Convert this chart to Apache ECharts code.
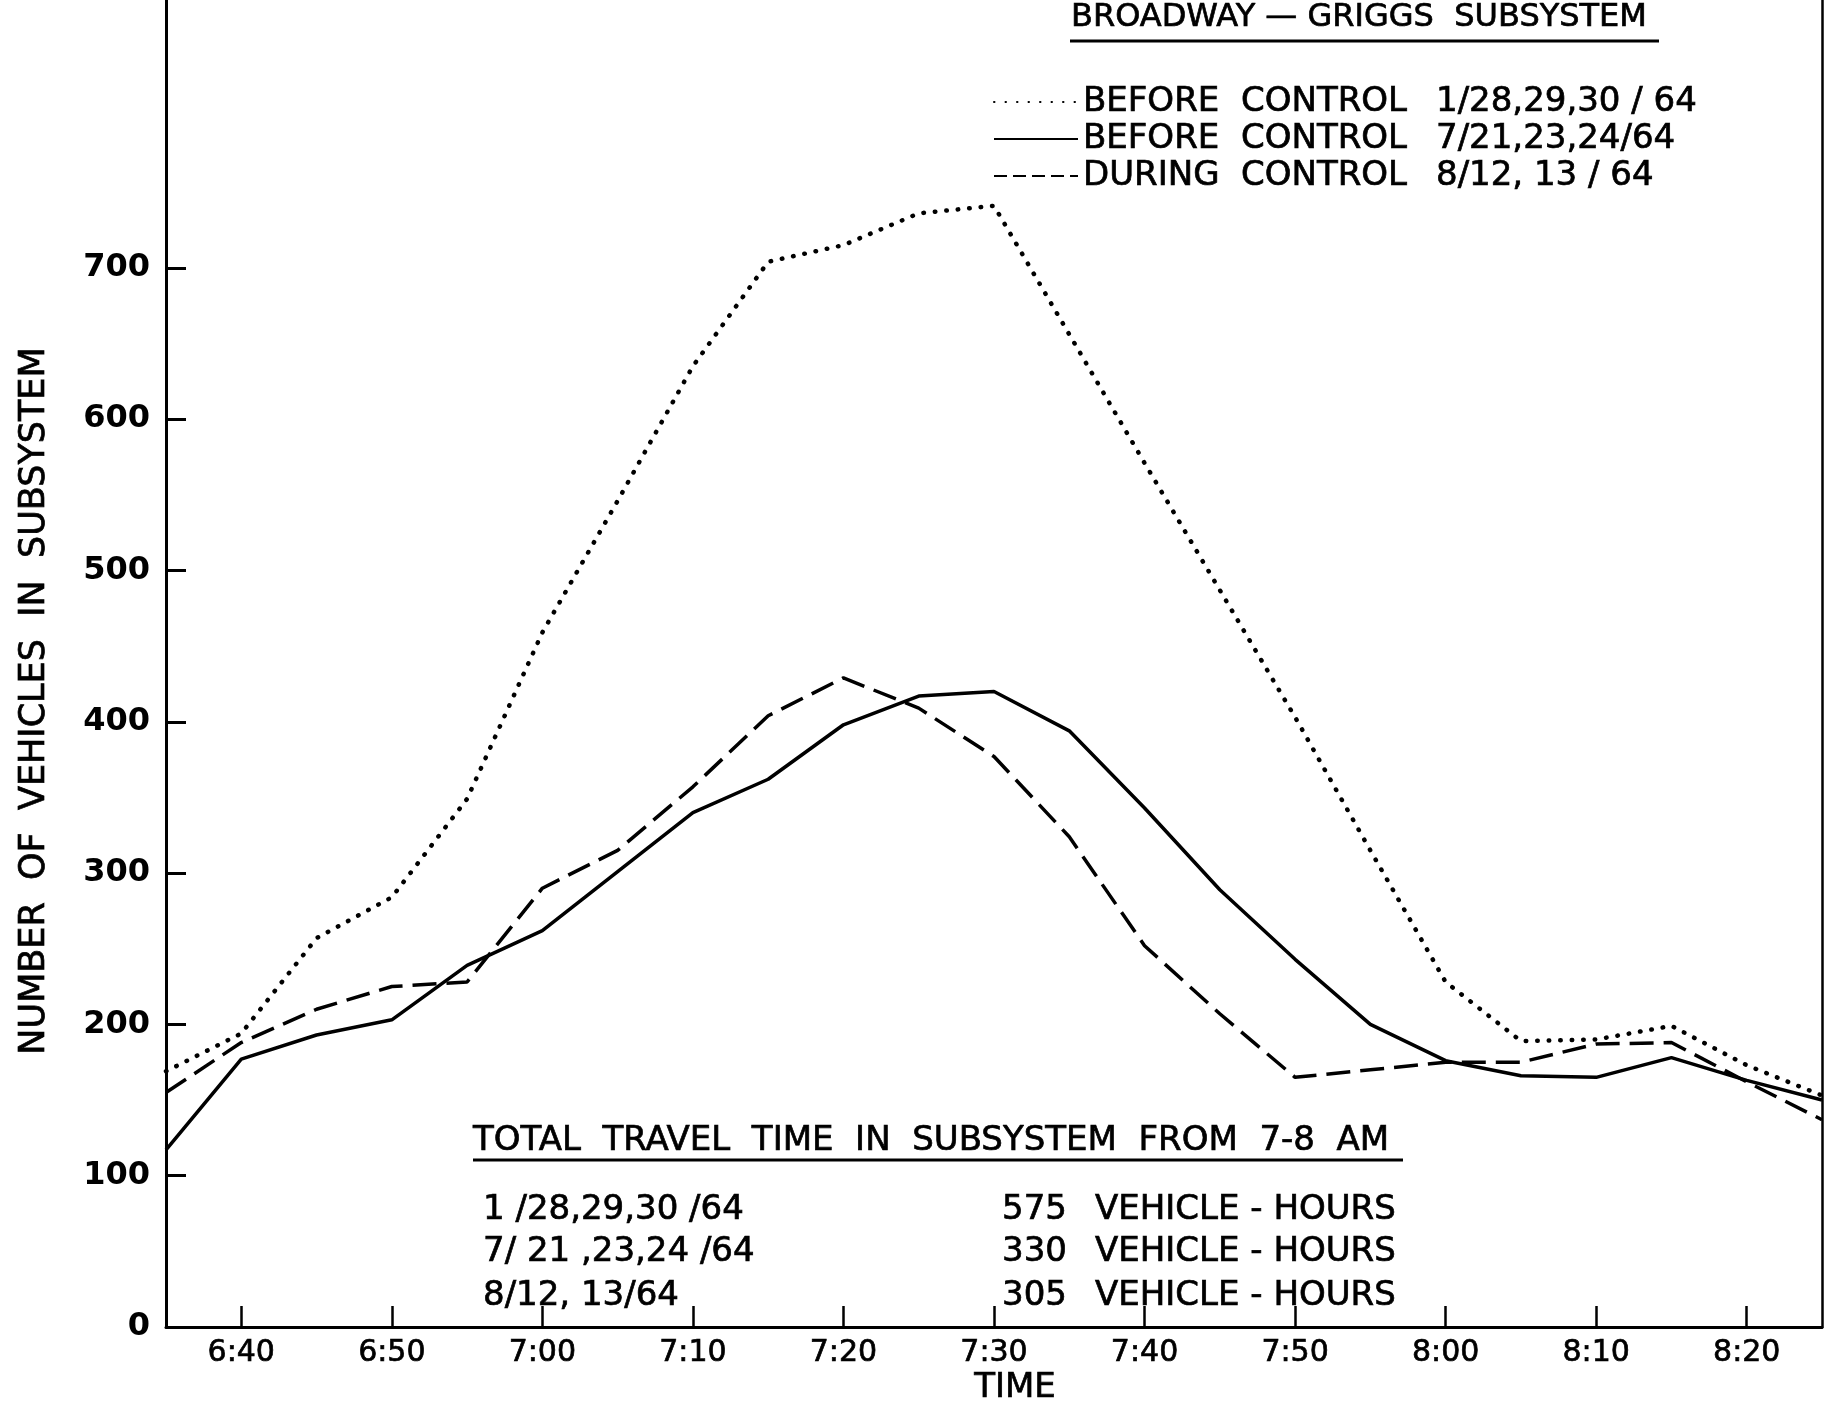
<!DOCTYPE html>
<html>
<head>
<meta charset="utf-8">
<script src="https://cdn.jsdelivr.net/npm/echarts@6/dist/echarts.min.js"></script>
<style>
  html, body { margin: 0; padding: 0; background: #fff; }
  #chart { width: 1833px; height: 1404px; }
</style>
</head>
<body>
<div id="chart"></div>
<script>
// time of day, every 5 minutes
var times = ['6:35', '6:40', '6:45', '6:50', '6:55', '7:00', '7:05', '7:10', '7:15', '7:20', '7:25', '7:30',
  '7:35', '7:40', '7:45', '7:50', '7:55', '8:00', '8:05', '8:10', '8:15', '8:20', '8:25'];

// number of vehicles in subsystem
var beforeJan = [169, 194, 257, 284, 349, 459, 546, 635, 704, 715, 736, 741, 656, 571, 487, 403, 315, 228, 189, 190, 199, 173, 153];
var beforeJul = [117, 177, 193, 203, 239, 262, 301, 340, 362, 398, 417, 420, 394, 343, 289, 243, 200, 176, 166, 165, 178, 163, 150];
var duringAug = [155, 188, 210, 225, 228, 290, 315, 357, 404, 429, 409, 377, 324, 252, 207, 165, 170, 175, 175, 187, 188, 162, 137];

var seriesNames = ['BEFORE|CONTROL|1/28,29,30 / 64', 'BEFORE|CONTROL|7/21,23,24/64', 'DURING|CONTROL|8/12, 13 / 64'];
var yTicks = [0, 100, 200, 300, 400, 500, 600, 700];

// travel time table
var tableDates = ['1 /28,29,30 /64', '7/ 21 ,23,24 /64', '8/12, 13/64'];
var tableHours = ['575', '330', '305'];

var FONT = '"DejaVu Sans",sans-serif';

function txt(x, y, text, size, extra) {
  var style = { text: text, font: size + 'px ' + FONT, fill: '#000', stroke: '#000', lineWidth: 0.7, verticalAlign: 'middle' };
  for (var k in extra) style[k] = extra[k];
  return { type: 'text', x: x, y: y, style: style };
}

var chart = echarts.init(document.getElementById('chart'));

var graphics = [
  txt(1071, 18, 'BROADWAY \u2014 GRIGGS  SUBSYSTEM', 32),
  { type: 'line', shape: { x1: 1070, y1: 41, x2: 1659, y2: 41 }, style: { stroke: '#000', lineWidth: 3 } },
  txt(473, 1141, 'TOTAL  TRAVEL  TIME  IN  SUBSYSTEM  FROM  7-8  AM', 34),
  { type: 'line', shape: { x1: 473, y1: 1160, x2: 1403, y2: 1160 }, style: { stroke: '#000', lineWidth: 3 } },
  txt(1015, 1388, 'TIME', 34, { align: 'center' }),
  txt(35, 701, 'NUMBER  OF  VEHICLES  IN  SUBSYSTEM', 35, { align: 'center' })
];
graphics[graphics.length - 1].rotation = Math.PI / 2;

var rowY = [1210, 1252, 1296];
tableDates.forEach(function (d, i) {
  graphics.push(txt(483, rowY[i], d, 34));
  graphics.push(txt(1002, rowY[i], tableHours[i], 34));
  graphics.push(txt(1095, rowY[i], 'VEHICLE - HOURS', 34));
});

var richBase = { fontFamily: FONT, fontSize: 34, lineHeight: 36, color: '#000', textBorderColor: '#000', textBorderWidth: 0.7 };
function rich(w) {
  var o = {};
  for (var k in richBase) o[k] = richBase[k];
  if (w) o.width = w;
  return o;
}

var option = {
  animation: false,
  backgroundColor: '#fff',
  grid: { left: 166, right: 11, top: 0, bottom: 77 },
  legend: {
    orient: 'vertical',
    left: 993,
    top: 84,
    padding: 0,
    itemWidth: 84,
    itemHeight: 14,
    itemGap: 1,
    data: [
      { name: seriesNames[0] },
      { name: seriesNames[1] },
      { name: seriesNames[2], lineStyle: { type: [13, 6] } }
    ],
    itemStyle: { opacity: 0 },
    formatter: function (name) {
      var p = name.split('|');
      return '{a|' + p[0] + '}{b|' + p[1] + '}{c|' + p[2] + '}';
    },
    textStyle: {
      color: '#000',
      fontFamily: FONT,
      fontSize: 34,
      lineHeight: 36,
      rich: { a: rich(158), b: rich(195), c: rich() }
    }
  },
  xAxis: {
    type: 'category',
    data: times,
    boundaryGap: false,
    axisLine: { lineStyle: { color: '#000', width: 3 } },
    axisTick: { inside: true, length: 21, interval: function (i) { return i % 2 === 1; }, lineStyle: { color: '#000', width: 2.5 } },
    axisLabel: {
      interval: function (i) { return i % 2 === 1; }, margin: 11, color: '#000',
      fontFamily: FONT, fontSize: 30, textBorderColor: '#000', textBorderWidth: 0.7
    },
    splitLine: { show: false }
  },
  yAxis: [
    {
      type: 'value',
      min: 0,
      max: 877,
      interval: 100,
      axisLine: { show: true, lineStyle: { color: '#000', width: 3 } },
      axisTick: { show: true, inside: true, length: 20, customValues: yTicks, lineStyle: { color: '#000', width: 3 } },
      axisLabel: {
        customValues: yTicks,
        margin: 16,
        color: '#000',
        fontFamily: FONT,
        fontWeight: 'bold',
        fontSize: 32,
        formatter: function (v) { return v <= 700 ? v : ''; }
      },
      splitLine: { show: false }
    },
    {
      type: 'value',
      position: 'right',
      min: 0,
      max: 877,
      axisLine: { show: true, onZero: false, lineStyle: { color: '#000', width: 2.5 } },
      axisTick: { show: false },
      axisLabel: { show: false },
      splitLine: { show: false }
    }
  ],
  series: [
    {
      name: seriesNames[0], type: 'line', data: beforeJan, symbol: 'none', itemStyle: { color: '#000' },
      lineStyle: { color: '#000', width: 4.5, type: [0.5, 11], cap: 'round' }
    },
    {
      name: seriesNames[1], type: 'line', data: beforeJul, symbol: 'none', itemStyle: { color: '#000' },
      lineStyle: { color: '#000', width: 3.5, type: 'solid' }
    },
    {
      name: seriesNames[2], type: 'line', data: duringAug, symbol: 'none', itemStyle: { color: '#000' },
      lineStyle: { color: '#000', width: 3.5, type: [24, 10] }
    }
  ],
  graphic: graphics
};

chart.setOption(option);
</script>
</body>
</html>
